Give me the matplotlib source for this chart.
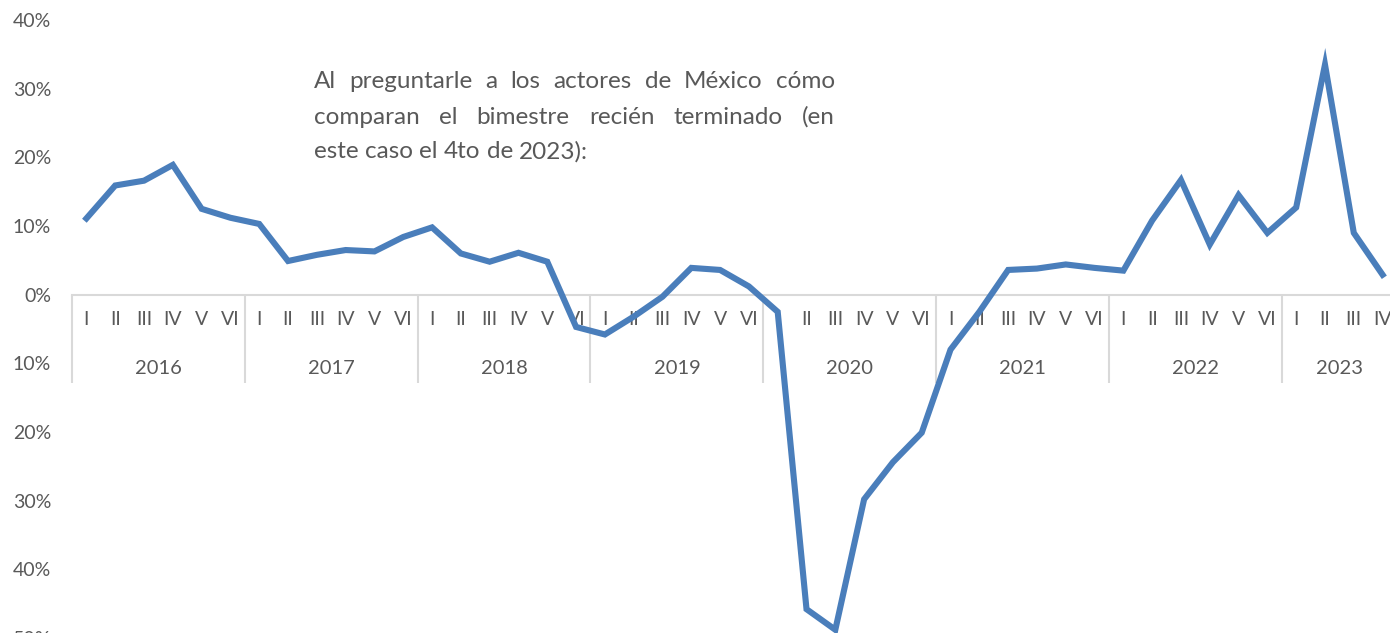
import numpy as np
import matplotlib
matplotlib.use("Agg")
import matplotlib.pyplot as plt
from matplotlib.ticker import FuncFormatter, FixedLocator

# data
years = ["2016", "2017", "2018", "2019", "2020", "2021", "2022", "2023"]
periods_per_year = [6, 6, 6, 6, 6, 6, 6, 4]
roman = ["I", "II", "III", "IV", "V", "VI"]
values = [
    11.1, 15.9, 16.6, 18.9, 12.5, 11.2,    # 2016
    10.3, 4.9, 5.8, 6.5, 6.3, 8.4,         # 2017
    9.8, 6.0, 4.8, 6.1, 4.8, -4.7,         # 2018
    -5.8, -3.2, -0.3, 3.9, 3.6, 1.2,       # 2019
    -2.5, -45.8, -48.8, -29.8, -24.4, -20.1,  # 2020
    -8.0, -2.5, 3.6, 3.8, 4.4, 3.9,        # 2021
    3.5, 10.8, 16.7, 7.3, 14.5, 9.0,       # 2022
    12.7, 33.5, 9.0, 2.9,                  # 2023
]
note_lines = [
    "Al preguntarle a los actores de México cómo",
    "comparan el bimestre recién terminado (en",
    "este caso el 4to de 2023):",
]

W, H = 1390, 633
FONT = "Lato"
GREY = "#595959"
LINE = "#d9d9d9"

fig = plt.figure(figsize=(W / 100, H / 100), dpi=100)
# axes spans x 72..1397 px, y(40%)=20 px, y(-50%)=638 px
ax = fig.add_axes([72 / W, (H - 638) / H, 1325 / W, 618 / H])

n = len(values)
xs = np.arange(n) + 0.5
ax.plot(xs, values, color="#4a7ebb", lw=4.4, solid_joinstyle="miter", clip_on=False, zorder=3)

ax.set_xlim(0, n)
ax.set_ylim(-50, 40)

for s in ["top", "right", "left"]:
    ax.spines[s].set_visible(False)
ax.spines["bottom"].set_position(("data", 0))
ax.spines["bottom"].set_color(LINE)
ax.spines["bottom"].set_linewidth(1.5)

# category ticks
labels = []
for cnt in periods_per_year:
    labels += roman[:cnt]
ax.set_xticks(xs)
ax.set_xticklabels(labels, fontsize=14, color=GREY, family=FONT)
ax.tick_params(axis="x", which="major", length=0, pad=12)

bounds = np.concatenate([[0], np.cumsum(periods_per_year)])
ax.xaxis.set_minor_locator(FixedLocator(bounds[:-1]))
ax.tick_params(axis="x", which="minor", length=63, width=1.5, color=LINE, direction="out")

for i, yr in enumerate(years):
    cx = (bounds[i] + bounds[i + 1]) / 2
    ax.annotate(yr, xy=(cx, 0), xycoords="data", xytext=(0, -74), textcoords="offset pixels",
                ha="center", va="center", fontsize=14.5, color=GREY, family=FONT)

ax.set_yticks(np.arange(-50, 41, 10))
ax.yaxis.set_major_formatter(FuncFormatter(lambda v, p: f"{abs(v):.0f}%"))
ax.tick_params(axis="y", length=0, pad=15, labelsize=14, labelcolor=GREY)
for t in ax.get_yticklabels():
    t.set_family(FONT)

# justified note text
renderer = fig.canvas.get_renderer()
x0, x1 = 314, 835
line_y = [82, 117, 152]
fs = 17.5
for k, line in enumerate(note_lines):
    words = line.split(" ")
    texts = [fig.text(0, 0, w, fontsize=fs, color=GREY, family=FONT, va="center")
             for w in words]
    widths = [t.get_window_extent(renderer).width for t in texts]
    if k < len(note_lines) - 1:
        gap = (x1 - x0 - sum(widths)) / (len(words) - 1)
    else:
        sp = fig.text(0, 0, "a a", fontsize=fs, family=FONT)
        sp2 = fig.text(0, 0, "aa", fontsize=fs, family=FONT)
        gap = sp.get_window_extent(renderer).width - sp2.get_window_extent(renderer).width
        sp.remove()
        sp2.remove()
    x = x0
    for t, w in zip(texts, widths):
        t.set_position((x / W, (H - line_y[k]) / H))
        x += w + gap

fig.savefig("out.png", dpi=100)
